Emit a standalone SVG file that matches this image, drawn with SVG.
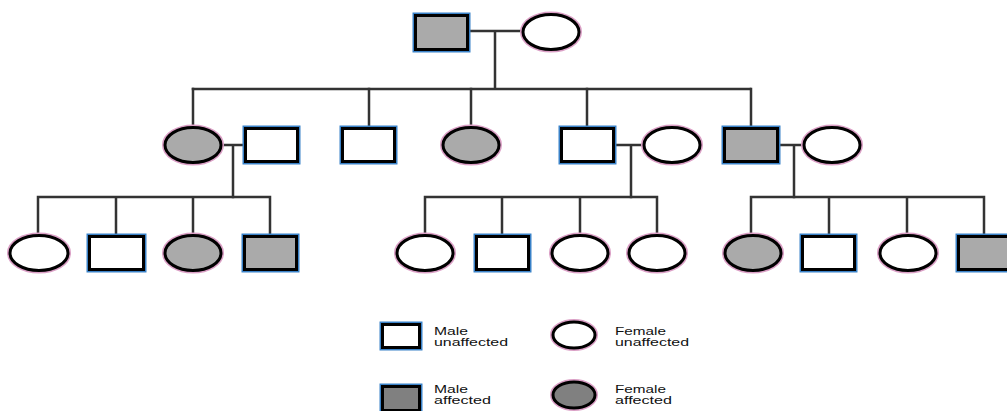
<svg xmlns="http://www.w3.org/2000/svg" width="1007" height="411" viewBox="0 0 1007 411">
<style>
.ln{stroke:#333;stroke-width:2.5;fill:none;stroke-linecap:square}
.mo{fill:none;stroke:#3a82c8;stroke-width:6}
.mi{stroke:#000;stroke-width:3}
.fo{fill:none;stroke:#dba0c6;stroke-width:6}
.fi{stroke:#000;stroke-width:3}
.u{fill:#fff}
.a{fill:#aaaaaa}
.d{fill:#808080}
.t{font-family:"Liberation Sans",Arial,sans-serif;font-size:11.5px;fill:#111}
</style>
<rect width="1007" height="411" fill="#fff"/>
<g id="connectors">
<path class="ln" d="M470 31H521M495 31V89M193 89H750"/>
<path class="ln" d="M193 89V127M369 89V126M471 89V127M587 89V126M751 89V126"/>
<path class="ln" d="M223 145H243M233 145V197M616 145H643M631 145V197M780 145H802M794 145V197"/>
<path class="ln" d="M38 197H270M38 197V235M116 197V234M193 197V235M270 197V234"/>
<path class="ln" d="M425 197H657M425 197V235M502 197V234M580 197V235M657 197V235"/>
<path class="ln" d="M751 197H984M751 197V235M829 197V234M907 197V235M984 197V234"/>
</g>
<g id="g1-father"><rect class="mo" x="415.5" y="15.5" width="52" height="34"/><rect class="mi a" x="415.5" y="15.5" width="52" height="34"/></g>
<g id="g1-mother"><ellipse class="fo" cx="551" cy="32" rx="28" ry="17.5"/><ellipse class="fi u" cx="551" cy="32" rx="28" ry="17.5"/></g>
<g id="g2-f1"><ellipse class="fo" cx="193" cy="145" rx="28" ry="17.5"/><ellipse class="fi a" cx="193" cy="145" rx="28" ry="17.5"/></g>
<g id="g2-m1"><rect class="mo" x="245.5" y="128.5" width="52" height="33"/><rect class="mi u" x="245.5" y="128.5" width="52" height="33"/></g>
<g id="g2-m2"><rect class="mo" x="342.5" y="128.5" width="52" height="33"/><rect class="mi u" x="342.5" y="128.5" width="52" height="33"/></g>
<g id="g2-f2"><ellipse class="fo" cx="471" cy="145" rx="28" ry="17.5"/><ellipse class="fi a" cx="471" cy="145" rx="28" ry="17.5"/></g>
<g id="g2-m3"><rect class="mo" x="561.5" y="128.5" width="52" height="33"/><rect class="mi u" x="561.5" y="128.5" width="52" height="33"/></g>
<g id="g2-f3"><ellipse class="fo" cx="672" cy="145" rx="28" ry="17.5"/><ellipse class="fi u" cx="672" cy="145" rx="28" ry="17.5"/></g>
<g id="g2-m4"><rect class="mo" x="724.5" y="128.5" width="53" height="33"/><rect class="mi a" x="724.5" y="128.5" width="53" height="33"/></g>
<g id="g2-f4"><ellipse class="fo" cx="832" cy="145" rx="28" ry="17.5"/><ellipse class="fi u" cx="832" cy="145" rx="28" ry="17.5"/></g>
<g id="g3-1"><ellipse class="fo" cx="39" cy="253" rx="29" ry="17.5"/><ellipse class="fi u" cx="39" cy="253" rx="29" ry="17.5"/></g>
<g id="g3-2"><rect class="mo" x="89.5" y="236.5" width="54" height="33"/><rect class="mi u" x="89.5" y="236.5" width="54" height="33"/></g>
<g id="g3-3"><ellipse class="fo" cx="193" cy="253" rx="28" ry="17.5"/><ellipse class="fi a" cx="193" cy="253" rx="28" ry="17.5"/></g>
<g id="g3-4"><rect class="mo" x="244.5" y="236.5" width="52" height="33"/><rect class="mi a" x="244.5" y="236.5" width="52" height="33"/></g>
<g id="g3-5"><ellipse class="fo" cx="425" cy="253" rx="28" ry="17.5"/><ellipse class="fi u" cx="425" cy="253" rx="28" ry="17.5"/></g>
<g id="g3-6"><rect class="mo" x="476.5" y="236.5" width="52" height="33"/><rect class="mi u" x="476.5" y="236.5" width="52" height="33"/></g>
<g id="g3-7"><ellipse class="fo" cx="580" cy="253" rx="28" ry="17.5"/><ellipse class="fi u" cx="580" cy="253" rx="28" ry="17.5"/></g>
<g id="g3-8"><ellipse class="fo" cx="657" cy="253" rx="28" ry="17.5"/><ellipse class="fi u" cx="657" cy="253" rx="28" ry="17.5"/></g>
<g id="g3-9"><ellipse class="fo" cx="753" cy="253" rx="28" ry="17.5"/><ellipse class="fi a" cx="753" cy="253" rx="28" ry="17.5"/></g>
<g id="g3-10"><rect class="mo" x="802.5" y="236.5" width="52" height="33"/><rect class="mi u" x="802.5" y="236.5" width="52" height="33"/></g>
<g id="g3-11"><ellipse class="fo" cx="908" cy="253" rx="28" ry="17.5"/><ellipse class="fi u" cx="908" cy="253" rx="28" ry="17.5"/></g>
<g id="g3-12"><rect class="mo" x="958.5" y="236.5" width="53" height="33"/><rect class="mi a" x="958.5" y="236.5" width="53" height="33"/></g>
<g id="legend">
<rect class="mo" x="382.5" y="324.5" width="37" height="23"/><rect class="mi u" x="382.5" y="324.5" width="37" height="23"/>
<text class="t" x="434" y="335" textLength="34" lengthAdjust="spacingAndGlyphs">Male</text>
<text class="t" x="434" y="346" textLength="74" lengthAdjust="spacingAndGlyphs">unaffected</text>
<ellipse class="fo" cx="574" cy="335" rx="21" ry="13"/><ellipse class="fi u" cx="574" cy="335" rx="21" ry="13"/>
<text class="t" x="615" y="335" textLength="51" lengthAdjust="spacingAndGlyphs">Female</text>
<text class="t" x="615" y="346" textLength="74" lengthAdjust="spacingAndGlyphs">unaffected</text>
<rect class="mo" x="382.5" y="386.5" width="37" height="24"/><rect class="mi d" x="382.5" y="386.5" width="37" height="24"/>
<text class="t" x="434" y="393" textLength="34" lengthAdjust="spacingAndGlyphs">Male</text>
<text class="t" x="434" y="404" textLength="57" lengthAdjust="spacingAndGlyphs">affected</text>
<ellipse class="fo" cx="574" cy="395" rx="21" ry="13"/><ellipse class="fi d" cx="574" cy="395" rx="21" ry="13"/>
<text class="t" x="615" y="393" textLength="51" lengthAdjust="spacingAndGlyphs">Female</text>
<text class="t" x="615" y="404" textLength="57" lengthAdjust="spacingAndGlyphs">affected</text>
</g>
</svg>
